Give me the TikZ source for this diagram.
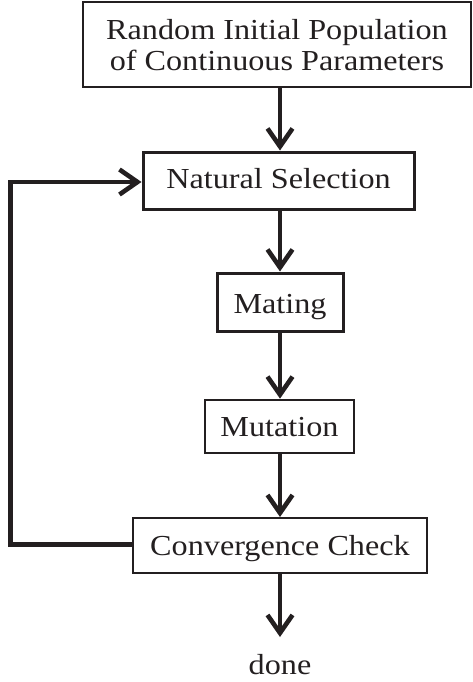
\documentclass[tikz,border=0pt]{standalone}
\usepackage{fontspec}
\setmainfont[FakeStretch=1.11]{Liberation Serif}
\usetikzlibrary{arrows.meta}
\definecolor{ink}{RGB}{35,31,32}
\begin{document}
\begin{tikzpicture}[x=1pt,y=-1pt,
  every node/.style={text=ink,font=\fontsize{29}{31}\selectfont},
  box/.style={draw=ink,inner sep=0pt,align=center,text depth=0pt},
  conn/.style={draw=ink,line width=4.6pt,-{Straight Barb[length=18pt,width=25pt]}}]
\useasboundingbox (0,0) rectangle (472,682);
\node[box,line width=2pt,minimum width=388pt,minimum height=85pt,text height=53pt] (init) at (277,44.5)
  {Random Initial Population\\of Continuous Parameters};
\node[box,line width=3pt,minimum width=271pt,minimum height=57pt,text height=16.6pt] (sel) at (278.5,180.5) {Natural Selection};
\node[box,line width=3pt,minimum width=126pt,minimum height=58pt,text height=22.6pt] (mate) at (280,302) {Mating};
\node[box,line width=2.7pt,minimum width=149pt,minimum height=53pt,text height=20.4pt] (mut) at (279.5,426.5) {Mutation};
\node[box,line width=2pt,minimum width=294pt,minimum height=55pt,text height=19pt] (conv) at (280,545.5) {Convergence Check};
\node[anchor=base,inner sep=0pt] (done) at (280,674) {done};
\coordinate (doneTop) at (280,637);
\coordinate (c1) at (10.5,544.5);
\coordinate (c2) at (10.5,182);
\draw[conn] (init.south -| 280,0) -- (sel.north -| 280,0);
\draw[conn] (sel.south -| 280,0) -- (mate.north -| 280,0);
\draw[conn] (mate.south -| 280,0) -- (mut.north -| 280,0);
\draw[conn] (mut.south -| 280,0) -- (conv.north -| 280,0);
\draw[conn] (conv.south -| 280,0) -- (doneTop);
\draw[conn,line join=miter] (conv.west |- c1) -- (c1) -- (c2) -- (sel.west |- c2);
\end{tikzpicture}
\end{document}
